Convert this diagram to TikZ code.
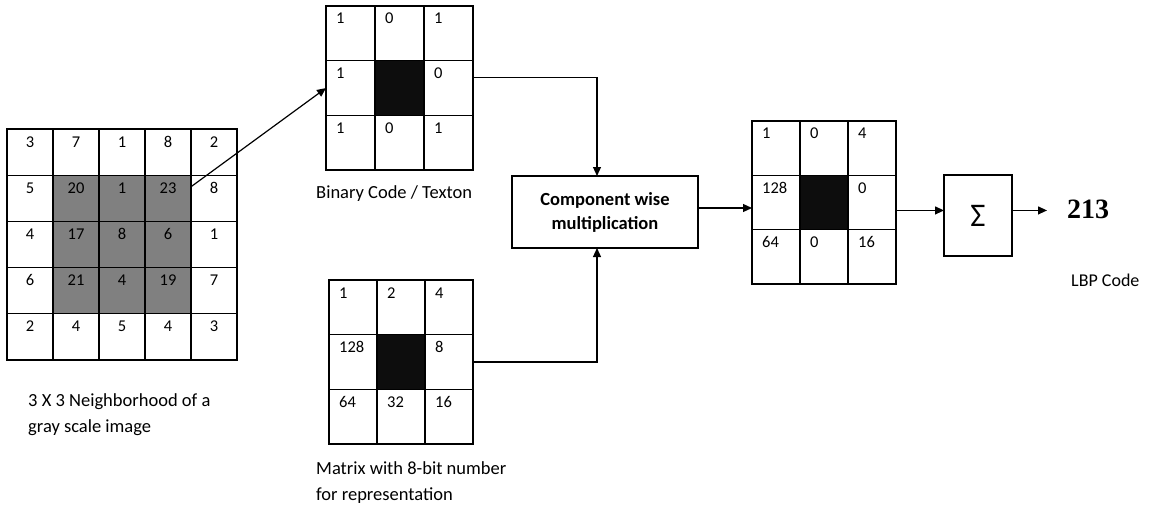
\documentclass[tikz,border=0pt]{standalone}
\usepackage{fontspec}
\setmainfont{Carlito}
\newfontfamily\numfont{Liberation Serif}
\usetikzlibrary{arrows.meta,calc}
\definecolor{cellgray}{HTML}{808080}
\definecolor{cellblack}{HTML}{0D0D0D}

\tikzset{
  cell/.style={draw, line width=1.3pt, inner sep=0pt, outer sep=0pt},
  num/.style={inner sep=0pt, font=\fontsize{16.5}{19}\selectfont},
  caption/.style={inner sep=0pt, align=left, font=\fontsize{18.5}{26}\selectfont},
  flow/.style={line width=1.2pt, -{Triangle[length=9pt,width=8pt]}},
  plainbox/.style={draw, line width=1.3pt, inner sep=0pt, outer sep=0pt},
}

% 3x3 grid: name, left, top, cell width, cell height, rows (a negative entry is the black centre)
\newcommand\lbpgrid[6]{%
  \foreach \r/\vals in {#6} {
    \foreach \v [count=\c] in \vals {
      \ifnum\v<0 \def\fc{cellblack}\else\def\fc{white}\fi
      \node[cell, minimum width=#4pt, minimum height=#5pt, fill=\fc]
        (#1-\r-\c) at ({#2+#4*(\c-0.5)},{#3+#5*(\r-0.5)}) {};
      \ifnum\v<0 \else
        \node[num, anchor=base west] (#1-\r-\c-t) at ($(#1-\r-\c.north west)+(10,18)$) {\v};
      \fi
    }
  }%
}

\begin{document}
\begin{tikzpicture}[x=1pt,y=-1pt]
  \useasboundingbox (0,0) rectangle (1151,508);

  % 5x5 neighbourhood, centre 3x3 shaded
  \foreach \r/\vals in {1/{3,7,1,8,2},2/{5,20,1,23,8},3/{4,17,8,6,1},4/{6,21,4,19,7},5/{2,4,5,4,3}} {
    \foreach \v [count=\c] in \vals {
      \pgfmathtruncatemacro\inner{(\r>1)*(\r<5)*(\c>1)*(\c<5)}
      \ifnum\inner=1 \def\fc{cellgray}\else\def\fc{white}\fi
      \node[cell, minimum width=46pt, minimum height=46.2pt, fill=\fc]
        (g-\r-\c) at ({7+46*(\c-0.5)},{129+46.2*(\r-0.5)}) {};
      \node[num, anchor=base] (g-\r-\c-t) at ($(g-\r-\c.north)+(0,18)$) {\v};
    }
  }

  % binary code, weights and weighted result
  \lbpgrid{b}{326}{6}{49}{54.7}{1/{1,0,1},2/{1,-1,0},3/{1,0,1}}
  \lbpgrid{w}{329}{280}{48}{54.7}{1/{1,2,4},2/{128,-1,8},3/{64,32,16}}
  \lbpgrid{res}{752}{121}{48}{54.3}{1/{1,0,4},2/{128,-1,0},3/{64,0,16}}

  % processing boxes
  \node[plainbox, minimum width=186pt, minimum height=72pt, align=center,
        font=\bfseries\fontsize{18.5}{24}\selectfont] (cm) at (605,212)
        {Component wise\\multiplication};
  \node[plainbox, minimum width=68pt, minimum height=81pt,
        font=\fontsize{33}{33}\selectfont] (sig) at (978,215.5) {Σ};
  \node[inner sep=0pt, anchor=base west, font=\numfont\bfseries\fontsize{28}{28}\selectfont]
        (out) at (1067,218) {213};

  % captions (base anchor sits on the last line)
  \node[caption, anchor=base west] (capg) at (28,432) {3 X 3 Neighborhood of a\\gray scale image};
  \node[caption, anchor=base west] (capb) at (316,198) {Binary Code / Texton};
  \node[caption, anchor=base west] (capw) at (316,500) {Matrix with 8-bit number\\for representation};
  \node[caption, anchor=base west, font=\fontsize{18}{22}\selectfont] (capl) at (1071,286) {LBP Code};

  % connectors
  \coordinate (gsrc) at ($(g-2-4.north east)!0.25!(g-2-4.south east)$);
  \draw[flow] (gsrc) -- (b-2-1.west);

  \coordinate (bout) at ($(b-2-3.north east)!0.31!(b-2-3.south east)$);
  \coordinate (cmtop) at ($(cm.north)+(-8,0)$);
  \coordinate (cmbot) at ($(cm.south)+(-8,0)$);
  \draw[flow] (bout) -| (cmtop);
  \draw[flow] (w-2-3.east) -| (cmbot);

  \coordinate (cmout) at ($(cm.east)+(0,-4)$);
  \draw[flow] (cmout) -- (cmout -| res-2-1.west);

  \coordinate (resout) at ($(res-2-3.east)+(0,8)$);
  \draw[flow] (resout) -- (resout -| sig.west);
  \draw[flow, shorten >=20pt] (resout -| sig.east) -- (resout -| out.west);
\end{tikzpicture}
\end{document}
